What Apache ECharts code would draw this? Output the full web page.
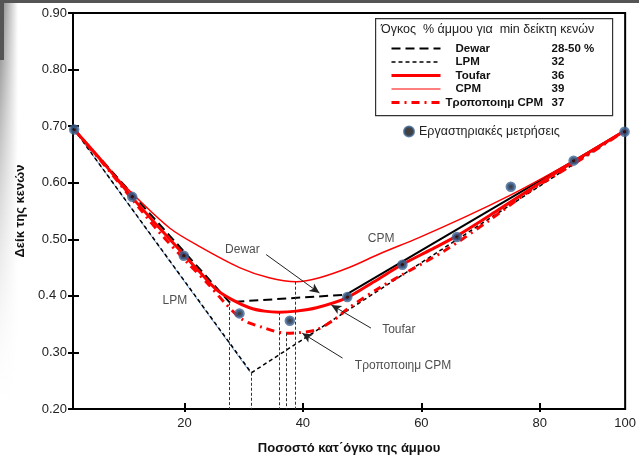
<!DOCTYPE html>
<html>
<head>
<meta charset="utf-8">
<script src="https://cdn.jsdelivr.net/npm/echarts@6/dist/echarts.min.js"></script>
<style>
html, body { margin: 0; padding: 0; background: #fff; }
#main { width: 639px; height: 466px; }
</style>
</head>
<body>
<div id="main"></div>
<script>
// x axis as drawn in the figure: 20..80 evenly spaced, right edge labelled 100
var xMin = 1.2, xMax = 94.4;
var xTicks = [20, 40, 60, 80];
var xLabels = [20, 40, 60, 80, xMax];
var yMin = 0.2, yMax = 0.9, yStep = 0.1;

// curves [x, void ratio]
var dewarDashed = [[1.4, 0.694], [27.6, 0.389], [47.3, 0.402]];
var dewarSolid = [[47.3, 0.402], [94.4, 0.692]];
var lpm = [[1.4, 0.694], [31.3, 0.264], [94.4, 0.692]];
var lpmBlue = [[1.4, 0.694], [31.1, 0.265]];
var toufar = [
    [1.4, 0.694], [6.6, 0.632], [11.1, 0.575], [15.8, 0.520], [19.9, 0.473],
    [22.6, 0.442], [25.4, 0.411], [28.1, 0.393], [31.0, 0.379], [33.5, 0.373],
    [36.0, 0.371], [38.9, 0.373], [42.3, 0.379], [47.3, 0.396], [52.0, 0.425],
    [56.7, 0.455], [61.3, 0.480], [66.0, 0.506], [73.0, 0.552], [79.8, 0.598],
    [85.7, 0.637], [94.4, 0.692]
];
var cpm = [
    [1.4, 0.694], [5.7, 0.641], [11.1, 0.582], [17.5, 0.520], [22.6, 0.487],
    [29.3, 0.450], [34.3, 0.432], [38.9, 0.425], [42.8, 0.432], [47.8, 0.450],
    [52.9, 0.474], [59.6, 0.503], [67.5, 0.540], [75.2, 0.579], [80.6, 0.609],
    [85.7, 0.639], [94.4, 0.694]
];
var cpmMod = [
    [1.4, 0.694], [6.6, 0.630], [11.1, 0.572], [15.8, 0.512], [20.4, 0.460],
    [24.2, 0.419], [26.8, 0.388], [29.8, 0.358], [33.0, 0.345], [37.2, 0.334],
    [39.4, 0.335], [42.3, 0.340], [45.3, 0.358], [47.8, 0.379], [52.9, 0.414],
    [56.2, 0.434], [64.1, 0.481], [71.4, 0.533], [78.1, 0.584], [86.0, 0.635],
    [94.4, 0.692]
];
// laboratory measurements
var labData = [
    [1.4, 0.694], [11.2, 0.575], [19.9, 0.471], [29.3, 0.369], [37.8, 0.356],
    [47.5, 0.398], [56.8, 0.455], [66.0, 0.504], [75.1, 0.593], [85.7, 0.639],
    [94.3, 0.690]
];
// minima -> vertical guides down to the x axis
var guideTops = [[27.6, 0.389], [31.3, 0.264], [36.0, 0.371], [37.2, 0.334], [38.7, 0.425]];

var legendNames = ['Dewar', 'LPM', 'Toufar', 'CPM', 'Τροποποιημ CPM'];
var legendValues = ['28-50 %', '32', '36', '39', '37'];
var legendWidths = [2, 1.5, 3, 1, 3];
var labName = 'Εργαστηριακές μετρήσεις';

// annotations
var notes = [
    ['Dewar', 29.8, 0.481], ['LPM', 18.4, 0.391], ['CPM', 53.2, 0.501],
    ['Toufar', 56.2, 0.340], ['Τροποποιημ CPM', 56.9, 0.276]
];
var arrows = [
    [[33.8, 0.473], [42.8, 0.405]],
    [[51.5, 0.343], [44.8, 0.384]],
    [[46.7, 0.290], [39.9, 0.334]]
];

var font = 'Liberation Sans, Arial, sans-serif';
var myChart = echarts.init(document.getElementById('main'));

function lineSeries(name, data, color, width, type, smooth) {
    return {
        name: name, type: 'line', data: data, symbol: 'none', smooth: smooth || false,
        silent: true, z: 3,
        lineStyle: {color: color, width: width, type: type}
    };
}

var guideLines = guideTops.map(function (p) {
    return [{coord: [p[0], p[1]], symbol: 'none'}, {coord: [p[0], yMin], symbol: 'none'}];
});
var arrowLines = arrows.map(function (a) {
    return [{coord: a[0], symbol: 'none'}, {coord: a[1], symbol: 'arrow'}];
});

var option = {
    animation: false,
    backgroundColor: '#fff',
    textStyle: {fontFamily: font},
    grid: {left: 73, right: 12, top: 13, bottom: 57, show: true, borderColor: '#000', borderWidth: 2},
    xAxis: [{
        type: 'value', min: xMin, max: xMax,
        name: 'Ποσοστό κατ΄όγκο της άμμου', nameLocation: 'middle', nameGap: 33,
        nameTextStyle: {fontWeight: 'bold', fontSize: 13, color: '#111', fontFamily: font},
        axisLine: {lineStyle: {color: '#000', width: 2}},
        axisTick: {inside: true, length: 6, customValues: xTicks, lineStyle: {color: '#000', width: 2}},
        axisLabel: {
            customValues: xLabels, margin: 8, fontSize: 13, color: '#222', fontFamily: font,
            formatter: function (v) { return v > 90 ? '100' : String(v); }
        },
        splitLine: {show: false}
    }, {
        type: 'value', min: xMin, max: xMax, position: 'bottom',
        axisLine: {show: false},
        axisTick: {length: 3, customValues: xTicks, lineStyle: {color: '#000', width: 2}},
        axisLabel: {show: false}, splitLine: {show: false}
    }],
    yAxis: [{
        type: 'value', min: yMin, max: yMax, interval: yStep,
        name: 'Δείκ της κενών', nameLocation: 'middle', nameGap: 46,
        nameTextStyle: {fontWeight: 'bold', fontSize: 13, color: '#111', fontFamily: font},
        axisLine: {show: true, lineStyle: {color: '#000', width: 2}},
        axisTick: {show: true, inside: true, length: 6, lineStyle: {color: '#000', width: 2}},
        axisLabel: {
            margin: 6, fontSize: 13, color: '#222', fontFamily: font,
            formatter: function (v) { var s = v.toFixed(2); return s === '0.40' ? '0.4 0' : s; }
        },
        splitLine: {show: false}
    }, {
        type: 'value', min: yMin, max: yMax, interval: yStep, position: 'left',
        axisLine: {show: false},
        axisTick: {show: true, length: 5, lineStyle: {color: '#000', width: 2}},
        axisLabel: {show: false}, splitLine: {show: false}
    }],
    legend: [{
        data: legendNames.map(function (n, i) {
            return {name: n, lineStyle: {width: legendWidths[i]}};
        }),
        orient: 'vertical', left: 385, top: 37,
        itemWidth: 49, itemHeight: 10, itemGap: 0.5, selectedMode: false,
        itemStyle: {opacity: 0},
        textStyle: {
            lineHeight: 13, color: '#111', fontFamily: font,
            rich: {
                n: {fontWeight: 'bold', fontSize: 11.5, width: 96, padding: [0, 0, 0, 10], fontFamily: font, color: '#111'},
                m: {fontWeight: 'bold', fontSize: 11.5, width: 106, fontFamily: font, color: '#111'},
                v: {fontWeight: 'bold', fontSize: 11.5, fontFamily: font, color: '#111'}
            }
        },
        formatter: function (name) {
            var i = legendNames.indexOf(name);
            var st = name.length > 8 ? 'm' : 'n';
            return '{' + st + '|' + name + '}{v|' + legendValues[i] + '}';
        }
    }, {
        data: [labName], left: 398, top: 120, itemWidth: 10, itemHeight: 10,
        selectedMode: false,
        textStyle: {fontSize: 12.5, color: '#222', fontFamily: font}
    }],
    graphic: [
        {type: 'rect', silent: true, z: -10, shape: {x: 0, y: 0, width: 18, height: 420},
            style: {fill: new echarts.graphic.LinearGradient(0, 0, 0, 1, [
                {offset: 0, color: 'rgba(90,90,90,0.8)'}, {offset: 1, color: 'rgba(255,255,255,0)'}])}},
        {type: 'rect', silent: true, z: -9, shape: {x: 0, y: 0, width: 18, height: 466},
            style: {fill: new echarts.graphic.LinearGradient(0, 0, 1, 0, [
                {offset: 0, color: 'rgba(255,255,255,0)'}, {offset: 1, color: 'rgba(255,255,255,1)'}])}},
        {type: 'rect', silent: true, z: -8, shape: {x: 0, y: 0, width: 639, height: 3},
            style: {fill: '#555'}},
        {type: 'rect', silent: true, z: -8, shape: {x: 0, y: 0, width: 4, height: 60},
            style: {fill: '#555'}},
        {type: 'rect', silent: true, z: 1, left: 375, top: 18, shape: {width: 237, height: 97},
            style: {fill: '#fff', stroke: '#333', lineWidth: 1.2}},
        {type: 'text', silent: true, z: 2, left: 381, top: 23,
            style: {text: 'Όγκος  % άμμου για  min δείκτη κενών', fill: '#222', font: '12.5px ' + font}}
    ],
    series: [
        lineSeries('Dewar', dewarDashed, '#000', 2, [9, 5]),
        lineSeries('Dewar2', dewarSolid, '#000', 2, 'solid'),
        lineSeries('LPMblue', lpmBlue, '#6b9bd6', 1, 'solid'),
        lineSeries('LPM', lpm, '#000', 1.5, [4, 3]),
        lineSeries('CPM', cpm, '#ff0000', 1.5, 'solid', 0.3),
        lineSeries('Toufar', toufar, '#ff0000', 3, 'solid', 0.3),
        lineSeries('Τροποποιημ CPM', cpmMod, '#ff0000', 3, [8, 5, 2, 5], 0.3),
        {
            name: 'guides', type: 'line', data: [], silent: true,
            markLine: {
                silent: true, animation: false, symbolSize: [6, 9],
                label: {show: false},
                lineStyle: {color: '#333', width: 1, type: [3, 2]},
                data: guideLines
            }
        },
        {
            name: 'arrows', type: 'line', data: [], silent: true,
            markLine: {
                silent: true, animation: false, symbolSize: [7, 10],
                label: {show: false},
                lineStyle: {color: '#222', width: 1, type: 'solid'},
                data: arrowLines
            }
        },
        {
            name: 'notes', type: 'scatter', silent: true, symbolSize: 0,
            data: notes.map(function (n) { return {name: n[0], value: [n[1], n[2]]}; }),
            label: {show: true, position: 'inside', formatter: '{b}', fontSize: 12, color: '#222', fontFamily: font}
        },
        {
            name: labName, type: 'scatter', data: labData, clip: false, z: 5,
            symbol: 'circle', symbolSize: 7,
            itemStyle: {color: '#111', borderColor: '#3f6392', borderWidth: 3.5}
        }
    ]
};

myChart.setOption(option);
</script>
</body>
</html>
